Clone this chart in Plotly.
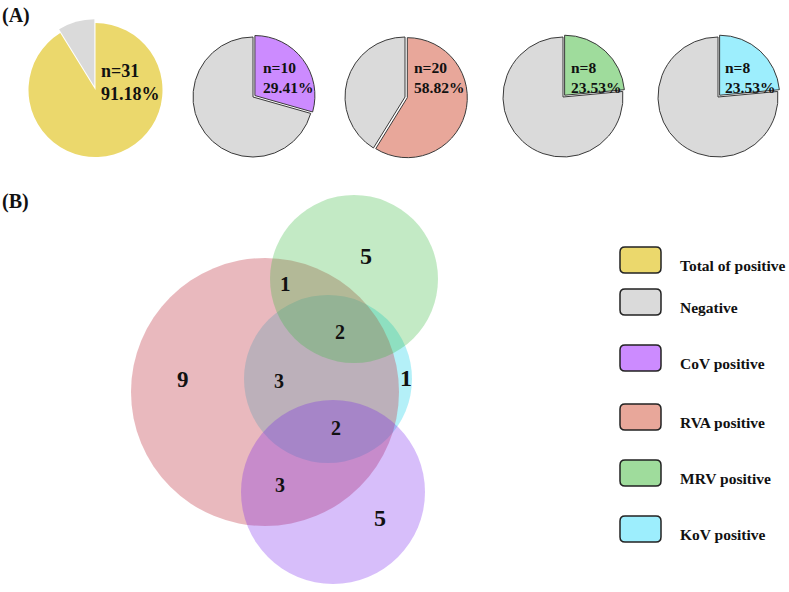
import plotly.graph_objects as go

# ---------------- data ----------------
total_n = 34
pie_labels = ["Total of positive", "CoV positive", "RVA positive", "MRV positive", "KoV positive"]
pie_positive = [31, 10, 20, 8, 8]

legend_labels = ["Total of positive", "Negative", "CoV positive", "RVA positive", "MRV positive", "KoV positive"]

venn_sets = ["KoV", "RVA", "MRV", "CoV"]
venn_region_counts = [9, 3, 1, 2, 1, 2, 3, 5, 5]

# ---------------- styles / positions ----------------
W, H = 789, 592
FONT = "Liberation Serif"
pos_colors = ["#EBD86C", "#CC8BFF", "#E8A79A", "#9FDC9C", "#9DEEFD"]
neg_color = "#DADADA"
legend_colors = ["#EBD86C", "#DADADA", "#CC8BFF", "#E8A79A", "#9FDC9C", "#9DEEFD"]

pie_centers = [(95.5, 90), (253, 97), (405, 97), (563, 97), (718, 97)]
pie_radius = [67, 60, 60, 60, 60]
pie_pull = [0.06, 0.04, 0.04, 0.04, 0.04]
text_pos = [(99, 82, 18), (261, 77, 15.5), (412, 77, 15.5), (569, 77, 15.5), (723, 77, 15.5)]

venn_circles = {  # cx, cy, r, color, opacity (drawing order = venn_sets)
    "KoV": (328, 379, 84, "rgb(68,218,238)", 0.4),
    "RVA": (265, 392, 134, "rgb(200,80,92)", 0.4),
    "MRV": (354, 279, 84, "rgb(55,185,62)", 0.3),
    "CoV": (333, 492, 92, "rgb(112,23,237)", 0.28),
}
venn_label_pos = [(183, 379, 23), (279, 381, 20), (285, 284, 21), (340, 332, 20),
                  (406, 378, 24), (336, 428, 20), (280, 485, 20), (366, 256, 24), (380, 518, 24)]

legend_box_y = [260, 302, 358, 417, 473, 529]


def px_domain(cx, cy, side):
    return dict(x=[(cx - side / 2) / W, (cx + side / 2) / W],
                y=[1 - (cy + side / 2) / H, 1 - (cy - side / 2) / H])


fig = go.Figure()

# pies
for i, pos in enumerate(pie_positive):
    cx, cy = pie_centers[i]
    side = 2 * pie_radius[i] * (1 + pie_pull[i])
    neg = total_n - pos
    if i == 0:
        pull = [0, pie_pull[i]]
        line = dict(width=0)
    else:
        pull = [pie_pull[i], 0]
        line = dict(color="#3a3a3a", width=1)
    fig.add_trace(go.Pie(
        values=[pos, neg], labels=[pie_labels[i], "Negative"],
        marker=dict(colors=[pos_colors[i], neg_color], line=line),
        sort=False, direction="clockwise", rotation=0, pull=pull,
        textinfo="none", hoverinfo="label+value", showlegend=False,
        domain=px_domain(cx, cy, side)))
    tx, ty, fs = text_pos[i]
    fig.add_annotation(x=tx, y=ty, xref="x", yref="y", xanchor="left", yanchor="middle",
                       align="left", showarrow=False,
                       text=f"<b>n={pos}<br>{pos / total_n * 100:.2f}%</b>",
                       font=dict(family=FONT, size=fs, color="#111"))

# venn circles
shapes = []
for name in venn_sets:
    cx, cy, r, col, op = venn_circles[name]
    shapes.append(dict(type="circle", xref="x", yref="y", x0=cx - r, x1=cx + r,
                       y0=cy - r, y1=cy + r, fillcolor=col, opacity=op,
                       line=dict(width=0), layer="above"))

for c, (x, y, fs) in zip(venn_region_counts, venn_label_pos):
    fig.add_annotation(x=x, y=y, xref="x", yref="y", showarrow=False,
                       text=f"<b>{c}</b>", font=dict(family=FONT, size=fs, color="#111"))


# legend
def rrect(x0, y0, x1, y1, r):
    return (f"M{x0+r},{y0} L{x1-r},{y0} Q{x1},{y0} {x1},{y0+r} L{x1},{y1-r} Q{x1},{y1} {x1-r},{y1} "
            f"L{x0+r},{y1} Q{x0},{y1} {x0},{y1-r} L{x0},{y0+r} Q{x0},{y0} {x0+r},{y0} Z")


for lab, col, yc in zip(legend_labels, legend_colors, legend_box_y):
    shapes.append(dict(type="path", xref="x", yref="y", path=rrect(620, yc - 13, 661, yc + 13, 5),
                       fillcolor=col, line=dict(color="#222", width=1.5)))
    fig.add_annotation(x=678, y=yc + 5, xref="x", yref="y", xanchor="left", yanchor="middle",
                       showarrow=False, text=f"<b>{lab}</b>",
                       font=dict(family=FONT, size=15.5, color="#111"))

for txt, y in [("(A)", 15), ("(B)", 201)]:
    fig.add_annotation(x=0, y=y, xref="x", yref="y", xanchor="left", yanchor="middle",
                       showarrow=False, text=f"<b>{txt}</b>",
                       font=dict(family=FONT, size=20, color="#111"))

fig.update_layout(
    width=W, height=H, margin=dict(l=0, r=0, t=0, b=0),
    paper_bgcolor="white", plot_bgcolor="white", shapes=shapes,
    xaxis=dict(range=[0, W], visible=False, fixedrange=True),
    yaxis=dict(range=[H, 0], visible=False, fixedrange=True),
    showlegend=False)

fig.write_html("out.html")
